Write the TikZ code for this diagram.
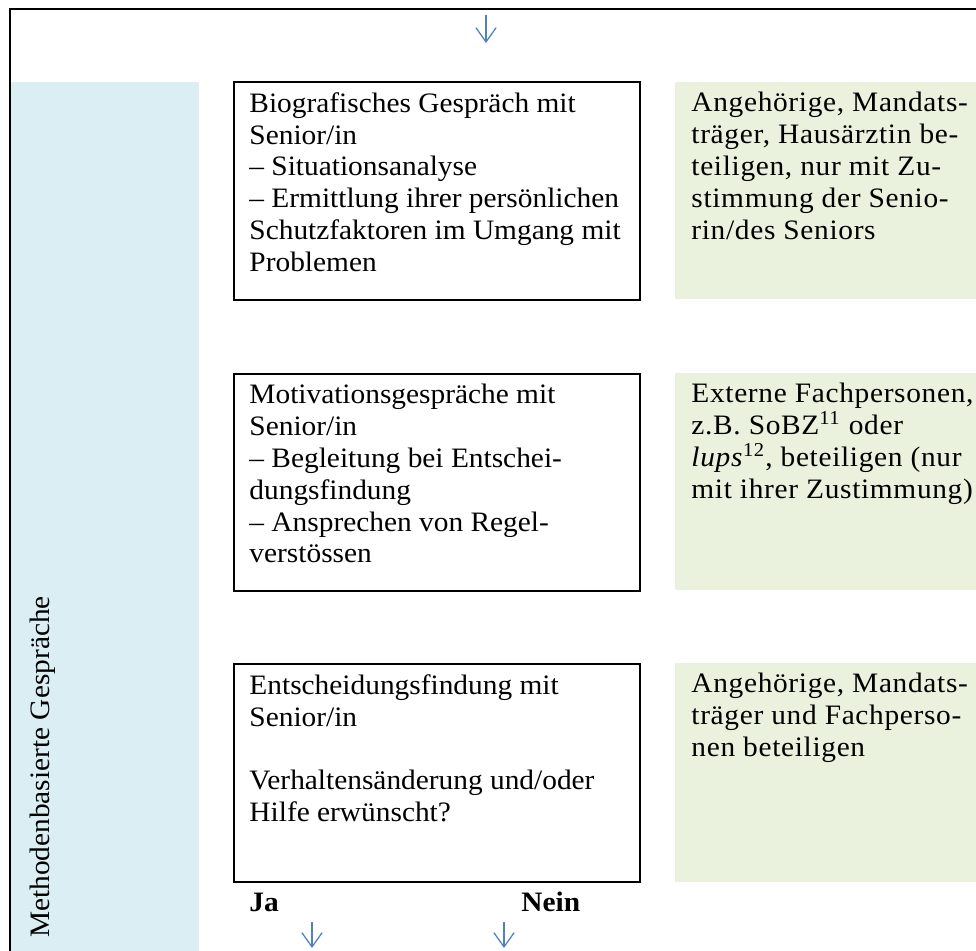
\documentclass[tikz,border=0pt]{standalone}
\usepackage{fontspec}
\setmainfont{Liberation Serif}[FakeStretch=1.045]
\usetikzlibrary{arrows.meta}
\definecolor{labelblue}{HTML}{DAEEF3}
\definecolor{helpgreen}{HTML}{EAF1DD}
\definecolor{flowblue}{HTML}{4F81BD}

\begin{document}
\begin{tikzpicture}
[x = 0.434pt, y = -0.434pt,
stepbox/.style = {draw, line width = 0.9pt},
helpbox/.style = {fill = helpgreen},
boxtext/.style = {anchor = north west, inner sep = 0pt, align = left,
  font = \fontsize{12.2}{13.8}\selectfont},
helptext/.style = {boxtext,
  font = \fontsize{12.2}{13.8}\selectfont\addfontfeature{LetterSpace=2.4}},
flow/.style = {draw = flowblue, line width = 0.55pt,
  -{Straight Barb[length = 6.2pt, width = 8.8pt]}}]

\useasboundingbox (0,0) rectangle (976,951);

% frame and label column
\fill[labelblue] (11,82) rectangle (199,951);
\draw[line width = 0.9pt] (976,9) -- (10,9) -- (10,951);
\node (label) [rotate = 90, anchor = base, inner sep = 0pt,
  font = \fontsize{12.2}{13.8}\selectfont] at (50,767) {Methodenbasierte Gespräche};

% step boxes
\draw[stepbox] (234,82) rectangle (640,300);
\draw[stepbox] (234,374) rectangle (640,591);
\draw[stepbox] (234,664) rectangle (640,882);

% help boxes
\fill[helpbox] (675,82) rectangle (976,299);
\fill[helpbox] (675,373) rectangle (976,590);
\fill[helpbox] (675,663) rectangle (976,882);

\node (bio) [boxtext] at (249,92) {Biografisches Gespräch mit\\ Senior/in\\
  – Situationsanalyse\\ – Ermittlung ihrer persönlichen\\
  Schutzfaktoren im Umgang mit\\ Problemen};
\node (motiv) [boxtext] at (249,384) {Motivationsgespräche mit\\ Senior/in\\
  – Begleitung bei Entschei-\\ dungsfindung\\
  – Ansprechen von Regel-\\ verstössen};
\node (entsch) [boxtext] at (249,674) {Entscheidungsfindung mit\\ Senior/in\\[13.8pt]
  Verhaltensänderung und/oder\\ Hilfe erwünscht?};

\node (help1) [helptext] at (691,92) {Angehörige, Mandats-\\
  träger, Hausärztin be-\\ teiligen, nur mit Zu-\\
  stimmung der Senio-\\ rin/des Seniors};
\node (help2) [helptext] at (691,383) {Externe Fachpersonen,\\
  z.B. SoBZ\textsuperscript{11} oder\\
  \textit{lups}\textsuperscript{12}, beteiligen (nur\\
  mit ihrer Zustimmung)};
\node (help3) [helptext] at (691,673) {Angehörige, Mandats-\\
  träger und Fachperso-\\ nen beteiligen};

% decision
\node (ja) [anchor = base west, inner sep = 0pt,
  font = \fontsize{12.2}{13.8}\selectfont\bfseries] at (249,911) {Ja};
\node (nein) [anchor = base west, inner sep = 0pt,
  font = \fontsize{12.2}{13.8}\selectfont\bfseries] at (521,911) {Nein};

% arrows
\coordinate (in) at (486,15);
\coordinate (in end) at (486,43);
\coordinate (ja out) at (312,922);
\coordinate (ja end) at (312,948);
\coordinate (nein out) at (504,922);
\coordinate (nein end) at (504,948);
\draw[flow] (in) -- (in end);
\draw[flow] (ja out) -- (ja end);
\draw[flow] (nein out) -- (nein end);

\end{tikzpicture}
\end{document}
